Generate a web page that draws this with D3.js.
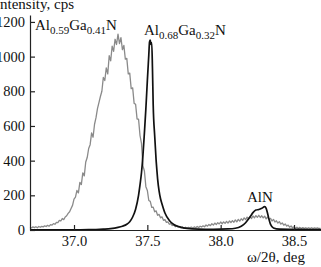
<!DOCTYPE html>
<html>
<head>
<meta charset="utf-8">
<script src="https://cdn.jsdelivr.net/npm/d3@7"></script>
<style>
  html, body { margin: 0; padding: 0; background: #fff; overflow: hidden; }
  svg { display: block; font-family: "Liberation Serif", "DejaVu Serif", serif; }
</style>
</head>
<body>
<svg id="chart" width="321" height="267"></svg>
<script>
// ---- data ----
const xTicks = [37.0, 37.5, 38.0, 38.5];
const xTickLabels = ["37.0", "37.5", "38.0", "38.5"];
const yTicks = [0, 200, 400, 600, 800, 1000, 1200];

// Al0.59Ga0.41N + AlN scan (grey), sampled every 0.01 deg from 36.70
const greyStart = 36.70, greyStep = 0.01;
const greyIntensity = [
  15,12,18,14,19,13,20,16,21,18,
  24,20,27,22,31,28,37,33,44,43,
  55,52,66,60,75,82,96,105,124,142,
  178,190,228,214,275,262,330,312,392,418,
  470,492,560,535,610,648,700,735,770,800,
  880,862,935,900,1005,975,1060,1030,1100,1070,
  1130,1075,1110,1040,1065,985,990,900,905,815,
  820,730,725,640,640,545,500,370,340,250,
  228,170,165,130,132,105,110,85,90,70,
  76,56,60,44,47,33,37,26,30,19,
  24,15,20,12,18,10,16,11,15,12,
  17,11,18,13,20,14,22,17,24,19,
  29,22,32,25,36,28,40,31,42,35,
  46,36,47,38,50,40,52,43,54,45,
  58,47,61,51,65,56,70,60,74,64,
  78,66,81,70,83,73,85,72,82,70,
  80,64,75,62,67,52,61,46,53,40,
  48,34,41,28,35,23,28,16,23,13,
  18,10,16,9,15,8,14,8,13,8,
  13,8,13,8,12,9,12,8,11
];

// Al0.68Ga0.32N + AlN scan (black)
const blackAngle = [
  36.70,36.80,36.90,37.00,37.10,37.15,37.20,37.25,37.30,37.33,37.36,37.38,37.40,37.42,
  37.44,37.45,37.46,37.47,37.48,37.49,37.50,37.51,37.515,37.52,37.525,37.53,37.535,
  37.54,37.55,37.56,37.565,37.57,37.58,37.59,37.60,37.62,37.65,37.68,37.72,37.77,
  37.85,37.95,38.05,38.10,38.14,38.17,38.20,38.22,38.24,38.26,38.28,38.30,38.31,
  38.32,38.33,38.34,38.36,38.40,38.50,38.60,38.684
];
const blackIntensity = [
  1,1,1,1,2,3,5,8,15,22,33,48,75,120,
  200,260,330,430,560,700,860,1010,1085,1095,1070,1080,930,
  720,545,400,345,295,225,180,150,98,55,32,18,9,
  5,4,6,10,22,42,75,100,115,118,125,135,125,
  95,60,32,12,5,4,3,3
];

const labels = [
  { parts: [["Al",0],["0.59",1],["Ga",0],["0.41",1],["N",0]], x: 35, y: 30 },
  { parts: [["Al",0],["0.68",1],["Ga",0],["0.32",1],["N",0]], x: 144, y: 35 },
  { parts: [["AlN",0]], x: 247, y: 202 }
];

// ---- drawing ----
const svg = d3.select("#chart");
const x = d3.scaleLinear().domain([36.70, 38.684]).range([30, 321]);
const y = d3.scaleLinear().domain([0, 1240]).range([230, 15]);

const grey = greyIntensity.map((v, i) => [greyStart + i * greyStep, v]);
const black = blackAngle.map((a, i) => [a, blackIntensity[i]]);

const line = d3.line().x(d => x(d[0])).y(d => y(d[1]));

svg.append("path").datum(grey)
  .attr("d", line)
  .attr("fill", "none").attr("stroke", "#8a8a8a").attr("stroke-width", 1.3)
  .attr("stroke-linejoin", "round");

svg.append("path").datum(black)
  .attr("d", line.curve(d3.curveMonotoneX))
  .attr("fill", "none").attr("stroke", "#111").attr("stroke-width", 1.7)
  .attr("stroke-linejoin", "round");

const xAxis = d3.axisBottom(x).tickValues(xTicks).tickFormat((d, i) => xTickLabels[i])
  .tickSizeInner(-5).tickSizeOuter(0).tickPadding(6);
const gx = svg.append("g").attr("transform", "translate(0,230)").call(xAxis);

const yAxis = d3.axisLeft(y).tickValues(yTicks).tickFormat(d3.format("d"))
  .tickSizeInner(-5).tickSizeOuter(0).tickPadding(5);
const gy = svg.append("g").attr("transform", "translate(30,0)").call(yAxis);

[gx, gy].forEach(g => {
  g.selectAll("path, line").attr("stroke", "#222").attr("stroke-width", 1.2);
  g.selectAll("text").attr("fill", "#111").style("font-size", "14.5px")
    .style("font-family", '"Liberation Serif", serif');
});

svg.append("text").attr("x", -5).attr("y", 9)
  .style("font-size", "15px").attr("fill", "#111").text("Intensity, cps");

svg.append("text").attr("x", 247).attr("y", 262)
  .style("font-size", "15px").attr("fill", "#111").text("ω/2θ, deg");

labels.forEach(l => {
  const t = svg.append("text").attr("x", l.x).attr("y", l.y).attr("fill", "#111");
  let prev = 0;
  l.parts.forEach(([s, sub]) => {
    t.append("tspan")
      .attr("dy", sub === prev ? 0 : (sub ? 3.5 : -3.5))
      .style("font-size", sub ? "11px" : "15px")
      .text(s);
    prev = sub;
  });
});
</script>
</body>
</html>
